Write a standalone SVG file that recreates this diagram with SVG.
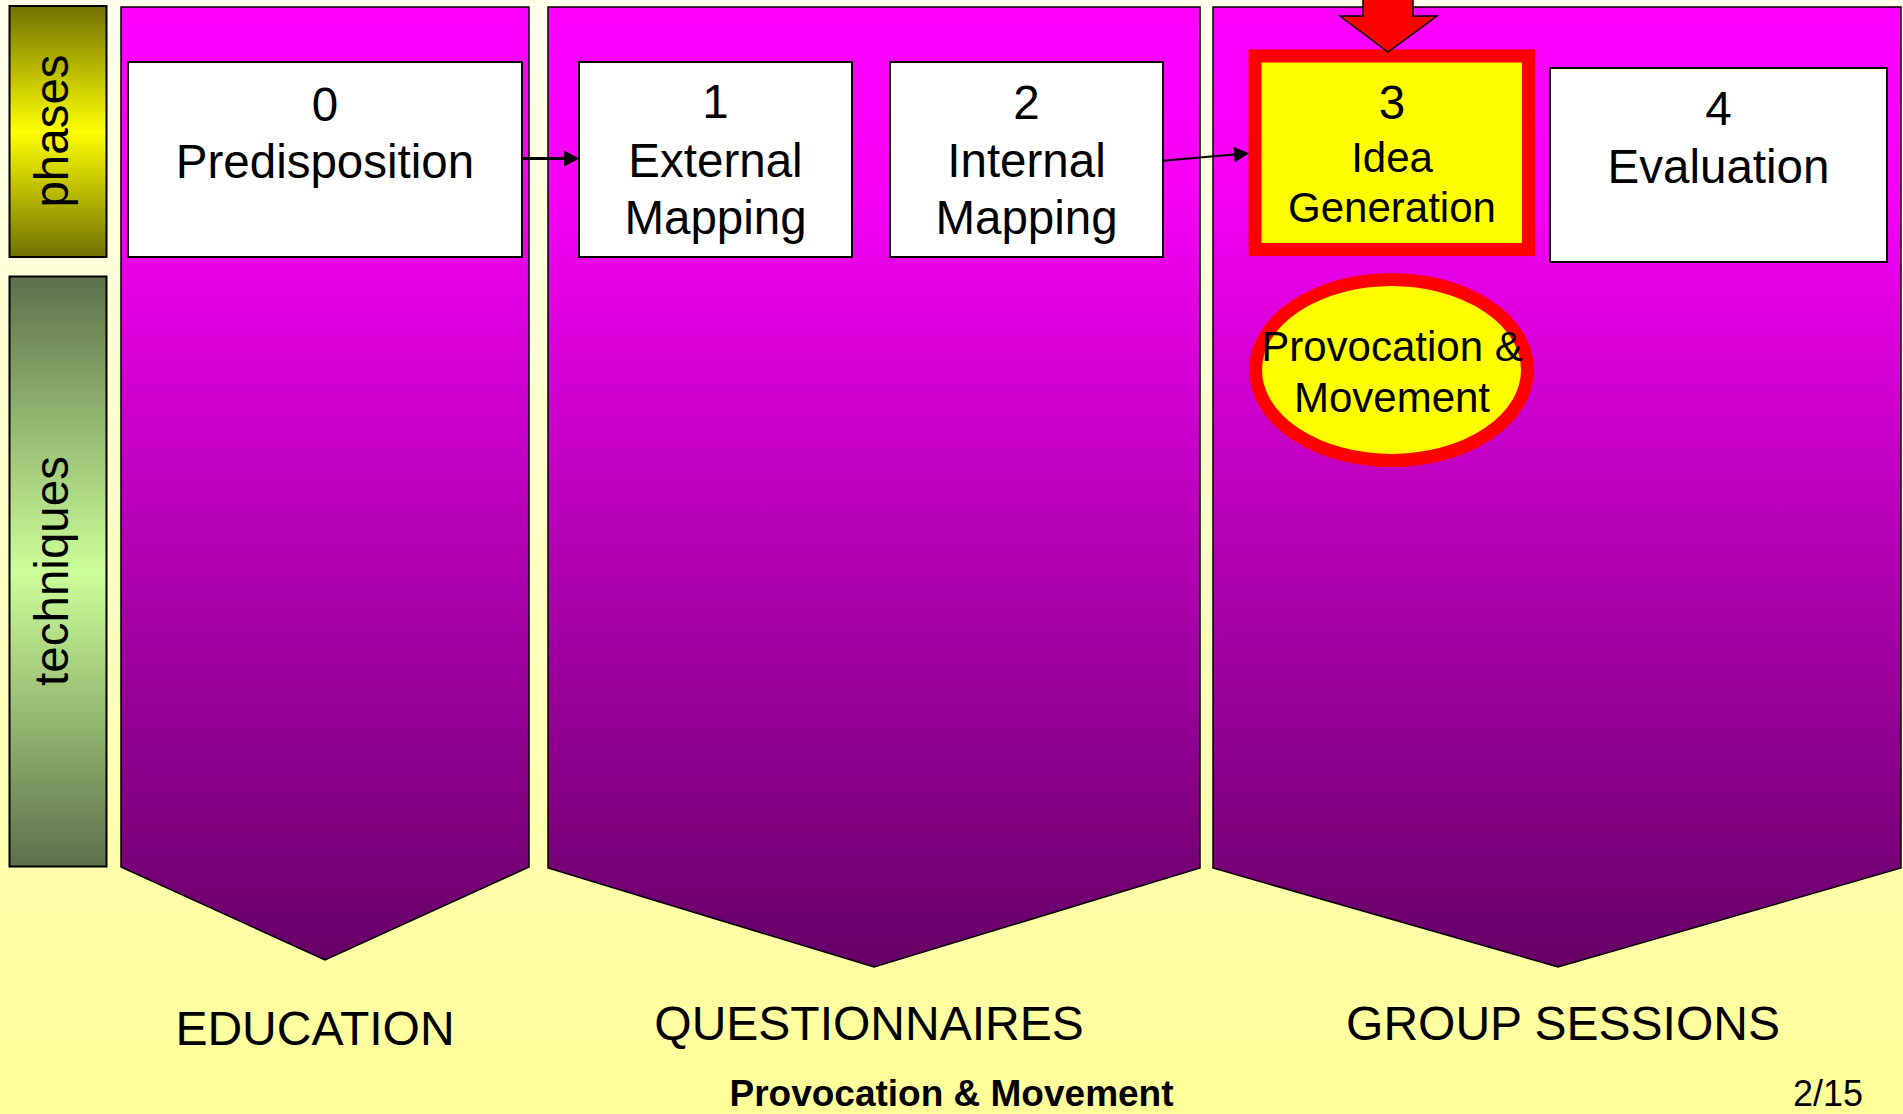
<svg xmlns="http://www.w3.org/2000/svg" width="1903" height="1114" viewBox="0 0 1903 1114">
  <defs>
    <linearGradient id="bg" x1="0" y1="0" x2="0" y2="1">
      <stop offset="0" stop-color="#FFFFEC"/>
      <stop offset="1" stop-color="#FFFF99"/>
    </linearGradient>
    <linearGradient id="col" gradientUnits="userSpaceOnUse" x1="0" y1="7" x2="0" y2="967">
      <stop offset="0" stop-color="#FF00FF"/>
      <stop offset="0.18" stop-color="#F800F8"/>
      <stop offset="1" stop-color="#660066"/>
    </linearGradient>
    <linearGradient id="phg" x1="0" y1="0" x2="0" y2="1">
      <stop offset="0" stop-color="#717100"/>
      <stop offset="0.5" stop-color="#FFFF00"/>
      <stop offset="1" stop-color="#717100"/>
    </linearGradient>
    <linearGradient id="teg" x1="0" y1="0" x2="0" y2="1">
      <stop offset="0" stop-color="#5C704A"/>
      <stop offset="0.5" stop-color="#CCFF99"/>
      <stop offset="1" stop-color="#5C704A"/>
    </linearGradient>
    <marker id="ah" markerUnits="userSpaceOnUse" markerWidth="16" markerHeight="18" refX="0" refY="8" orient="auto" viewBox="0 0 16 16">
      <path d="M0,0 L15,8 L0,16 Z" fill="#000"/>
    </marker>
  </defs>
  <style>
    .col { fill: url(#col); stroke: #000; stroke-width: 1.5; }
    .box { fill: #FFFFFF; stroke: #000; stroke-width: 2; }
    .hl { fill: #FFFF00; stroke: #FF0000; stroke-width: 13; }
    .t { font-family: "Liberation Sans", Arial, sans-serif; fill: #000; text-anchor: middle; }
    .n { font-size: 47.5px; }
    .s { font-size: 42px; }
    .lbl { font-size: 48px; }
    .conn { stroke: #000; fill: none; }
  </style>
  <rect x="0" y="0" width="1903" height="1114" fill="url(#bg)"/>

  <g id="side-phases">
    <rect x="9.5" y="6" width="97" height="251" fill="url(#phg)" stroke="#000" stroke-width="2"/>
    <text class="t n" transform="translate(68,131) rotate(-90)">phases</text>
  </g>
  <g id="side-techniques">
    <rect x="9.5" y="276.5" width="97" height="590" fill="url(#teg)" stroke="#000" stroke-width="2"/>
    <text class="t n" transform="translate(68,571) rotate(-90)">techniques</text>
  </g>

  <g id="column-education">
    <path class="col" d="M121,7 L529,7 L529,867 L325,960 L121,867 Z"/>
    <text class="t lbl" x="315" y="1045">EDUCATION</text>
  </g>
  <g id="column-questionnaires">
    <path class="col" d="M548,7 L1200,7 L1200,868 L874,967 L548,868 Z"/>
    <text class="t lbl" x="869" y="1040">QUESTIONNAIRES</text>
  </g>
  <g id="column-group-sessions">
    <path class="col" d="M1213,7 L1901,7 L1901,868 L1558,967 L1213,868 Z"/>
    <text class="t lbl" x="1563" y="1040">GROUP SESSIONS</text>
  </g>

  <g id="phase-0">
    <rect class="box" x="128" y="62" width="394" height="195"/>
    <text class="t n" x="325" y="121">0</text>
    <text class="t n" x="325" y="178">Predisposition</text>
  </g>
  <g id="phase-1">
    <rect class="box" x="579" y="62" width="273" height="195"/>
    <text class="t n" x="715.5" y="118">1</text>
    <text class="t n" x="715.5" y="176.5">External</text>
    <text class="t n" x="715.5" y="234">Mapping</text>
  </g>
  <g id="phase-2">
    <rect class="box" x="890" y="62" width="273" height="195"/>
    <text class="t n" x="1026.5" y="119">2</text>
    <text class="t n" x="1026.5" y="177">Internal</text>
    <text class="t n" x="1026.5" y="234">Mapping</text>
  </g>
  <g id="phase-3">
    <rect class="hl" x="1255" y="56" width="273.5" height="193.5"/>
    <text class="t n" x="1392" y="119">3</text>
    <text class="t s" x="1392" y="172">Idea</text>
    <text class="t s" x="1392" y="222">Generation</text>
  </g>
  <g id="phase-4">
    <rect class="box" x="1550" y="68" width="337" height="194"/>
    <text class="t n" x="1718.5" y="125">4</text>
    <text class="t n" x="1718.5" y="183">Evaluation</text>
  </g>
  <g id="technique-provocation">
    <ellipse class="hl" cx="1391.5" cy="370" rx="136" ry="90.5"/>
    <text class="t s" x="1392" y="361">Provocation &amp;</text>
    <text class="t s" x="1392" y="412">Movement</text>
  </g>
  <g id="current-marker">
    <polygon points="1363,-3 1413,-3 1413,16 1437,16 1388,52 1340,16 1363,16" fill="#FF0000" stroke="#000" stroke-width="1.5"/>
  </g>

  <g id="connectors">
    <line class="conn" x1="522" y1="158.5" x2="564" y2="158.5" stroke-width="3" marker-end="url(#ah)"/>
    <line class="conn" x1="1163" y1="160.7" x2="1234" y2="154.6" stroke-width="2" marker-end="url(#ah)"/>
  </g>

  <g id="footer">
    <text class="t" x="951.5" y="1106" font-size="37" font-weight="bold">Provocation &amp; Movement</text>
    <text class="t" x="1863" y="1106" font-size="36" style="text-anchor:end">2/15</text>
  </g>
</svg>
